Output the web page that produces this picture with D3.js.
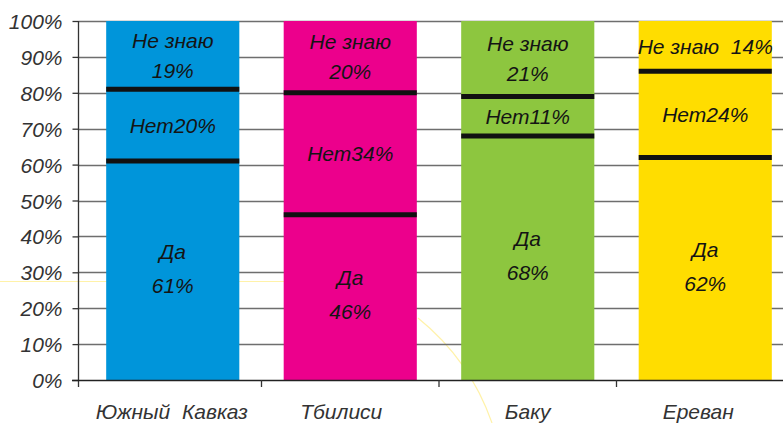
<!DOCTYPE html>
<html><head><meta charset="utf-8">
<script src="https://cdn.jsdelivr.net/npm/d3@7"></script>
<style>
html,body{margin:0;padding:0;background:#fff;}
svg{display:block;font-family:"Liberation Sans",Arial,sans-serif;font-style:italic;}
</style></head>
<body><svg id="c" width="783" height="423"></svg>
<script>
const categories = ["Южный  Кавказ", "Тбилиси", "Баку", "Ереван"];
const yesValues = [61, 46, 68, 62];
const noValues = [20, 34, 11, 24];
const dkValues = [19, 20, 21, 14];
const colors = ["#0095da", "#ec008c", "#8dc63f", "#ffdd00"];
const yTicks = [0,10,20,30,40,50,60,70,80,90,100];
const yesLabels = [["Да","61%"],["Да","46%"],["Да","68%"],["Да","62%"]];
const noLabels = ["Нет20%","Нет34%","Нет11%","Нет24%"];
const dkLabels = [["Не знаю","19%"],["Не знаю","20%"],["Не знаю","21%"],["Не знаю  14%"]];

const FS = 21;
const labelShift = [-1, -9, 0, -7];
const svg = d3.select("#c");
const W = 783, H = 423;
const x0 = 78.5, yTop = 21, yBot = 380;
const y = d3.scaleLinear().domain([0,100]).range([yBot, yTop]);
const x = d3.scaleBand().domain(categories).range([84, 794]).paddingInner(0.25).paddingOuter(0.125);

// decorative faint background lines
svg.append("line").attr("x1",0).attr("x2",300).attr("y1",281.5).attr("y2",281.5)
  .attr("stroke","#fff2a8").attr("stroke-width",1);
svg.append("path").attr("d","M418,318 Q470,360 492,423").attr("fill","none")
  .attr("stroke","#fff2a8").attr("stroke-width",1.2);

// gridlines
svg.append("g").selectAll("line").data(yTicks.filter(d=>d>0)).join("line")
  .attr("x1", x0).attr("x2", W).attr("y1", d=>Math.round(y(d))+0.5).attr("y2", d=>Math.round(y(d))+0.5)
  .attr("stroke","#6e6e6e").attr("stroke-width",1.3);

// y axis
const yAxis = d3.axisLeft(y).tickValues(yTicks).tickFormat(d=>d+"%").tickSize(6).tickPadding(10);
const gy = svg.append("g").attr("transform",`translate(${x0},0)`).call(yAxis);
gy.select(".domain").remove();
gy.selectAll(".tick line").attr("stroke","#333").attr("stroke-width",1.3);
gy.selectAll(".tick text").attr("font-size",FS).attr("fill","#333").attr("font-style","italic")
  .attr("font-family","'Liberation Sans',Arial,sans-serif").attr("dy","0.36em");
svg.append("line").attr("x1",x0).attr("x2",x0).attr("y1",yTop).attr("y2",yBot+7)
  .attr("stroke","#333").attr("stroke-width",1.3);

// bars
const data = categories.map((c,i)=>({c, i, segs:[
  {lo:0, hi:yesValues[i]},
  {lo:yesValues[i], hi:yesValues[i]+noValues[i]},
  {lo:yesValues[i]+noValues[i], hi:yesValues[i]+noValues[i]+dkValues[i]}
]}));
const gb = svg.append("g");
data.forEach(d=>{
  const g = gb.append("g");
  g.selectAll("rect").data(d.segs).join("rect")
    .attr("x", x(d.c)).attr("width", x.bandwidth())
    .attr("y", s=>y(s.hi)).attr("height", s=>y(s.lo)-y(s.hi))
    .attr("fill", colors[d.i]);
  [d.segs[0].hi, d.segs[1].hi].forEach(v=>{
    g.append("line").attr("x1",x(d.c)).attr("x2",x(d.c)+x.bandwidth())
      .attr("y1",y(v)).attr("y2",y(v)).attr("stroke","#111").attr("stroke-width",5);
  });
  const cx = x(d.c)+x.bandwidth()/2;
  const txt = (lines, mid, lh) => {
    const n = lines.length;
    lines.forEach((t,k)=>{
      g.append("text").attr("x",cx).attr("y", mid + (k-(n-1)/2)*lh + 7.5)
        .attr("text-anchor","middle").attr("font-size",FS).attr("fill","#141414")
        .attr("xml:space","preserve").style("white-space","pre").text(t);
    });
  };
  const m = s => (y(s.lo)+y(s.hi))/2;
  txt(yesLabels[d.i], m(d.segs[0]) - 2.5, 34);
  txt([noLabels[d.i]], m(d.segs[1]), 30);
  txt(dkLabels[d.i], m(d.segs[2]), 30);
});

// x axis
svg.append("line").attr("x1",72).attr("x2",W).attr("y1",yBot+0.5).attr("y2",yBot+0.5)
  .attr("stroke","#222").attr("stroke-width",1.3);
const bounds = categories.slice(1).map(c=>x(c) - x.step()*x.paddingInner()/2);
svg.append("g").selectAll("line").data(bounds).join("line")
  .attr("x1",d=>d).attr("x2",d=>d).attr("y1",yBot).attr("y2",yBot+7)
  .attr("stroke","#333").attr("stroke-width",1.3);
svg.append("g").selectAll("text").data(categories).join("text")
  .attr("x",(d,i)=>x(d)+x.bandwidth()/2 + labelShift[i]).attr("y",419)
  .attr("text-anchor","middle").attr("font-size",FS).attr("fill","#333")
  .attr("xml:space","preserve").style("white-space","pre").text(d=>d);
</script></body></html>
